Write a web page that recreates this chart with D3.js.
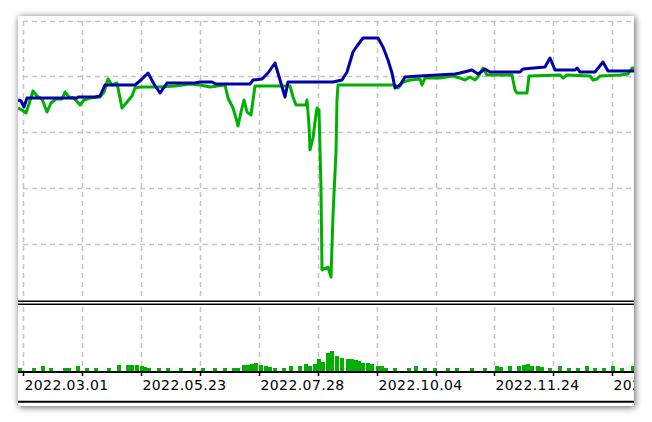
<!DOCTYPE html>
<html>
<head>
<meta charset="utf-8">
<script src="https://cdn.jsdelivr.net/npm/d3@7"></script>
<style>
  html, body { margin: 0; padding: 0; background: #ffffff; }
  svg { display: block; }
</style>
</head>
<body>
<svg id="chart" width="652" height="422"></svg>
<script>
// ---- data (x = deal index) ----
const balanceX = [0,3,6,9,22,59,60,77,82,87,117,123,130,136,142,149,162,177,182,194,198,232,235,244,250,257,262,267,270,315,324,329,335,339,345,360,365,370,374,377,382,387,402,437,442,454,460,467,472,502,505,527,532,537,557,559,562,577,585,590,616];
const balanceY = [4000,3980,3860,4040,4040,4040,4060,4060,4080,4300,4300,4400,4540,4320,4140,4340,4340,4340,4360,4360,4320,4320,4400,4420,4540,4740,4400,4060,4360,4360,4400,4560,4960,5080,5240,5240,5060,4800,4540,4240,4300,4460,4480,4520,4540,4600,4520,4620,4560,4560,4620,4660,4840,4600,4600,4640,4560,4560,4760,4580,4580];

const equityX = [0,4,8,11,15,19,24,29,33,38,44,47,51,56,62,66,72,82,86,90,94,99,104,109,114,117,122,142,157,172,182,192,207,210,215,218,220,223,226,229,233,237,272,275,278,288,289,291,292,295,297,299,301,303,304,310,313,315,318,319,320,377,380,385,392,402,404,407,422,435,442,447,452,457,460,465,469,494,497,499,509,511,542,545,549,572,575,579,582,602,610,614,616];
const equityY = [3840,3800,3740,3920,4180,4080,4020,3760,3940,4020,4020,4160,4060,4040,3900,4000,4040,4060,4160,4420,4300,4340,3840,3960,4080,4240,4260,4260,4280,4320,4300,4260,4300,4040,3840,3640,3480,3760,4000,3760,3700,4280,4280,4060,3900,3900,4000,3500,3000,3240,3560,3840,3800,2240,600,660,460,1700,2960,4000,4300,4300,4240,4360,4400,4420,4300,4440,4440,4480,4440,4400,4460,4400,4460,4640,4500,4500,4200,4140,4140,4480,4500,4440,4500,4480,4400,4420,4480,4500,4520,4640,4640];

const volumeX = [0,14,23,31,45,49,58,67,76,89,99,108,112,117,122,125,129,139,148,161,174,183,195,205,214,218,224,228,232,236,241,246,250,255,264,271,280,286,290,295,299,303,308,312,317,322,328,332,336,339,343,348,352,358,362,366,375,389,396,405,415,428,437,452,465,477,481,490,499,504,508,512,518,522,530,540,549,558,567,575,584,593,602,613];
const volumeY = [4,4,6,4,4,4,6,4,4,4,7,7,7,7,6,5,4,4,4,4,4,4,4,4,4,4,7,7,8,9,7,6,5,4,4,6,6,8,6,8,13,10,19,21,16,14,13,13,12,11,9,9,8,6,6,4,4,4,6,4,4,4,4,4,4,6,5,6,6,7,8,6,6,5,4,6,4,4,6,4,4,6,4,6];

const gridX = [5,64,123,182,241,300,359,418,476,535,594];
const gridY = [1120,2240,3360,4480,5580];
const tickLabels = {5:"2022.03.01",123:"2022.05.23",241:"2022.07.28",359:"2022.10.04",476:"2022.11.24",594:"2023.01.13"};

// ---- drawing ----
const svg = d3.select("#chart");
const L = 18, R = 634, T = 16, B = 406;

const defs = svg.append("defs");
const f = defs.append("filter").attr("id","shadow").attr("x","-10%").attr("y","-10%").attr("width","120%").attr("height","120%");
f.append("feDropShadow").attr("dx",1).attr("dy",1).attr("stdDeviation",3.5)
  .attr("flood-color","#000").attr("flood-opacity",0.65);
defs.append("clipPath").attr("id","clipMain").append("rect").attr("x",L).attr("y",T).attr("width",R-L).attr("height",300-T);
defs.append("clipPath").attr("id","clipAll").append("rect").attr("x",L).attr("y",T).attr("width",R-L).attr("height",B-T);

svg.append("rect").attr("x",L).attr("y",T).attr("width",R-L).attr("height",B-T)
  .attr("fill","#fff").attr("filter","url(#shadow)");

const x = d3.scaleLinear().domain([0,616]).range([L,R]);
const y = d3.scaleLinear().domain([0,5580]).range([300,21]);
const yv = d3.scaleLinear().domain([0,66]).range([372,306]);

const grid = svg.append("g").attr("clip-path","url(#clipAll)")
  .attr("stroke","#c4c4c4").attr("stroke-width",1.5).attr("stroke-dasharray","5,4");
grid.selectAll("line.v1").data(gridX).join("line").attr("class","v1")
  .attr("x1",d=>Math.round(x(d))+0.5).attr("x2",d=>Math.round(x(d))+0.5)
  .attr("y1",21).attr("y2",300);
grid.selectAll("line.v2").data(gridX).join("line").attr("class","v2")
  .attr("x1",d=>Math.round(x(d))+0.5).attr("x2",d=>Math.round(x(d))+0.5)
  .attr("y1",307).attr("y2",372);
grid.selectAll("line.h").data(gridY).join("line").attr("class","h")
  .attr("x1",L+5).attr("x2",R).attr("y1",d=>Math.round(y(d))+0.5).attr("y2",d=>Math.round(y(d))+0.5);

const main = svg.append("g").attr("clip-path","url(#clipMain)");
const line = d3.line().x(d=>x(d[0])).y(d=>y(d[1]));
main.append("path").datum(equityX.map((v,i)=>[v,equityY[i]]))
  .attr("d",line).attr("fill","none").attr("stroke","#00b000").attr("stroke-width",3).attr("stroke-linejoin","round");
main.append("path").datum(balanceX.map((v,i)=>[v,balanceY[i]]))
  .attr("d",line).attr("fill","none").attr("stroke","#0000a8").attr("stroke-width",3).attr("stroke-linejoin","round");

// separator double line
svg.append("g").attr("stroke","#000").attr("stroke-width",1.5)
  .selectAll("line").data([301.3,304.3]).join("line")
  .attr("x1",L).attr("x2",R).attr("y1",d=>d).attr("y2",d=>d);

// volume bars
svg.append("g").attr("clip-path","url(#clipAll)").attr("fill","#00b000")
  .selectAll("rect").data(volumeX.map((v,i)=>[v,volumeY[i]])).join("rect")
  .attr("x",d=>x(d[0])).attr("width",4)
  .attr("y",d=>yv(d[1])).attr("height",d=>yv(0)-yv(d[1]));

// x axis
const axis = d3.axisBottom(x).tickValues(gridX).tickSize(4).tickSizeOuter(0)
  .tickFormat(d=>tickLabels[d] || "");
const axOuter = svg.append("g").attr("clip-path","url(#clipAll)");
const ax = axOuter.append("g").attr("transform","translate(0,372)").call(axis);
ax.select(".domain").remove();
ax.append("line").attr("x1",L).attr("x2",R).attr("y1",0).attr("y2",0).attr("stroke","#000").attr("stroke-width",2);
ax.selectAll(".tick line").attr("stroke","#000").attr("stroke-width",1.5);
ax.selectAll(".tick text").attr("text-anchor","start").attr("x",1).attr("y",18).attr("dy",0)
  .attr("fill","#000").style("font-family","'DejaVu Sans'").style("font-size","14px").style("letter-spacing","0.4px");

// bottom line
svg.append("line").attr("x1",L).attr("x2",R).attr("y1",401.7).attr("y2",401.7).attr("stroke","#000").attr("stroke-width",2);
</script>
</body>
</html>
